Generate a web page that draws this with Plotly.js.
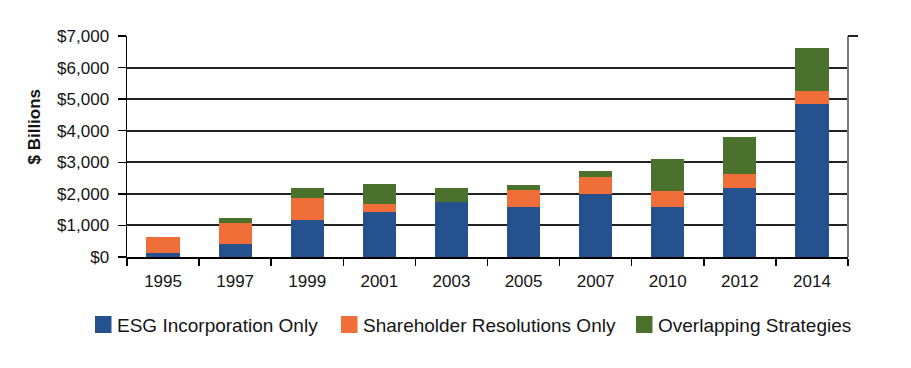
<!DOCTYPE html>
<html><head><meta charset="utf-8">
<script src="https://cdn.plot.ly/plotly-3.0.1.min.js"></script>
<style>html,body{margin:0;padding:0;background:#fff;}#chart{width:911px;height:368px;}</style>
</head><body><div id="chart"></div>
<script>
const years = ["1995","1997","1999","2001","2003","2005","2007","2010","2012","2014"];
const esgIncorporation = [120, 420, 1170, 1425, 1730, 1575, 1985, 1575, 2185, 4855];
const shareholderResolutions = [500, 665, 710, 265, 0, 555, 560, 505, 455, 415];
const overlapping = [0, 140, 305, 630, 455, 160, 190, 1015, 1150, 1340];
const seriesNames = ["ESG Incorporation Only", "Shareholder Resolutions Only", "Overlapping Strategies"];
const colors = ["#25528F", "#F06E37", "#4B722D"];
const yTicks = [0,1000,2000,3000,4000,5000,6000,7000];
const yTickText = ["$0","$1,000","$2,000","$3,000","$4,000","$5,000","$6,000","$7,000"];

const seriesValues = [esgIncorporation, shareholderResolutions, overlapping];
const traces = seriesValues.map((v,i)=>({
  type:"bar", x:years, y:v, name:seriesNames[i],
  marker:{color:colors[i], line:{width:0}}, showlegend:false
}));

// plot-area geometry (pixels) used to place the custom legend
const M = {l:127, r:63, t:36, b:111};
const W = 911, H = 368;
const pw = W - M.l - M.r, ph = H - M.t - M.b;
const px2x = p => (p - M.l) / pw;
const py2y = p => (H - M.b - p) / ph;
const legendSwatchX = [95, 341, 636];
const swatchW = 16.5, swTop = 316, swBot = 333;

const FAM = "Liberation Sans, Arial, Helvetica, sans-serif";
const tickFont = {family:FAM, size:17, color:"#141414"};

const shapes = [
  {type:"line", xref:"paper", yref:"paper", x0:1, x1:1, y0:0, y1:1, line:{color:"#7a7a7a", width:2}},
  {type:"line", xref:"paper", yref:"paper", x0:1, x1:px2x(858), y0:1, y1:1, line:{color:"#222", width:2}}
];
const annotations = [{text:"<b>$ Billions</b>", xref:"paper", yref:"paper", x:px2x(22), y:py2y(127),
  textangle:-90, showarrow:false, font:{family:FAM, size:17, color:"#141414"}}];
seriesNames.forEach((n,i)=>{
  const x0 = legendSwatchX[i];
  shapes.push({type:"rect", xref:"paper", yref:"paper", x0:px2x(x0), x1:px2x(x0+swatchW),
    y0:py2y(swBot), y1:py2y(swTop), fillcolor:colors[i], line:{width:0}});
  annotations.push({text:n, xref:"paper", yref:"paper", x:px2x(x0+swatchW+3), y:py2y(325),
    xanchor:"left", yanchor:"middle", showarrow:false, font:{family:FAM, size:19, color:"#141414"}});
});

const layout = {
  width:W, height:H,
  margin:M,
  barmode:"stack", bargap:0.54,
  paper_bgcolor:"#fff", plot_bgcolor:"#fff",
  font:tickFont,
  showlegend:false,
  xaxis:{type:"category", showline:true, linecolor:"#000", linewidth:2,
    ticks:"outside", tickson:"boundaries", ticklen:7, tickwidth:1.5, tickcolor:"#000",
    showgrid:false, tickfont:tickFont, ticklabelstandoff:8},
  yaxis:{range:[0,7000], tickvals:yTicks, ticktext:yTickText, showline:true, linecolor:"#000", linewidth:1.5,
    ticks:"outside", ticklen:8, tickwidth:1.5, tickcolor:"#000",
    showgrid:true, gridcolor:"#222", gridwidth:2, zeroline:false, tickfont:tickFont, ticklabelstandoff:5},
  shapes:shapes,
  annotations:annotations
};
Plotly.newPlot("chart", traces, layout, {displayModeBar:false, staticPlot:true});
</script></body></html>
